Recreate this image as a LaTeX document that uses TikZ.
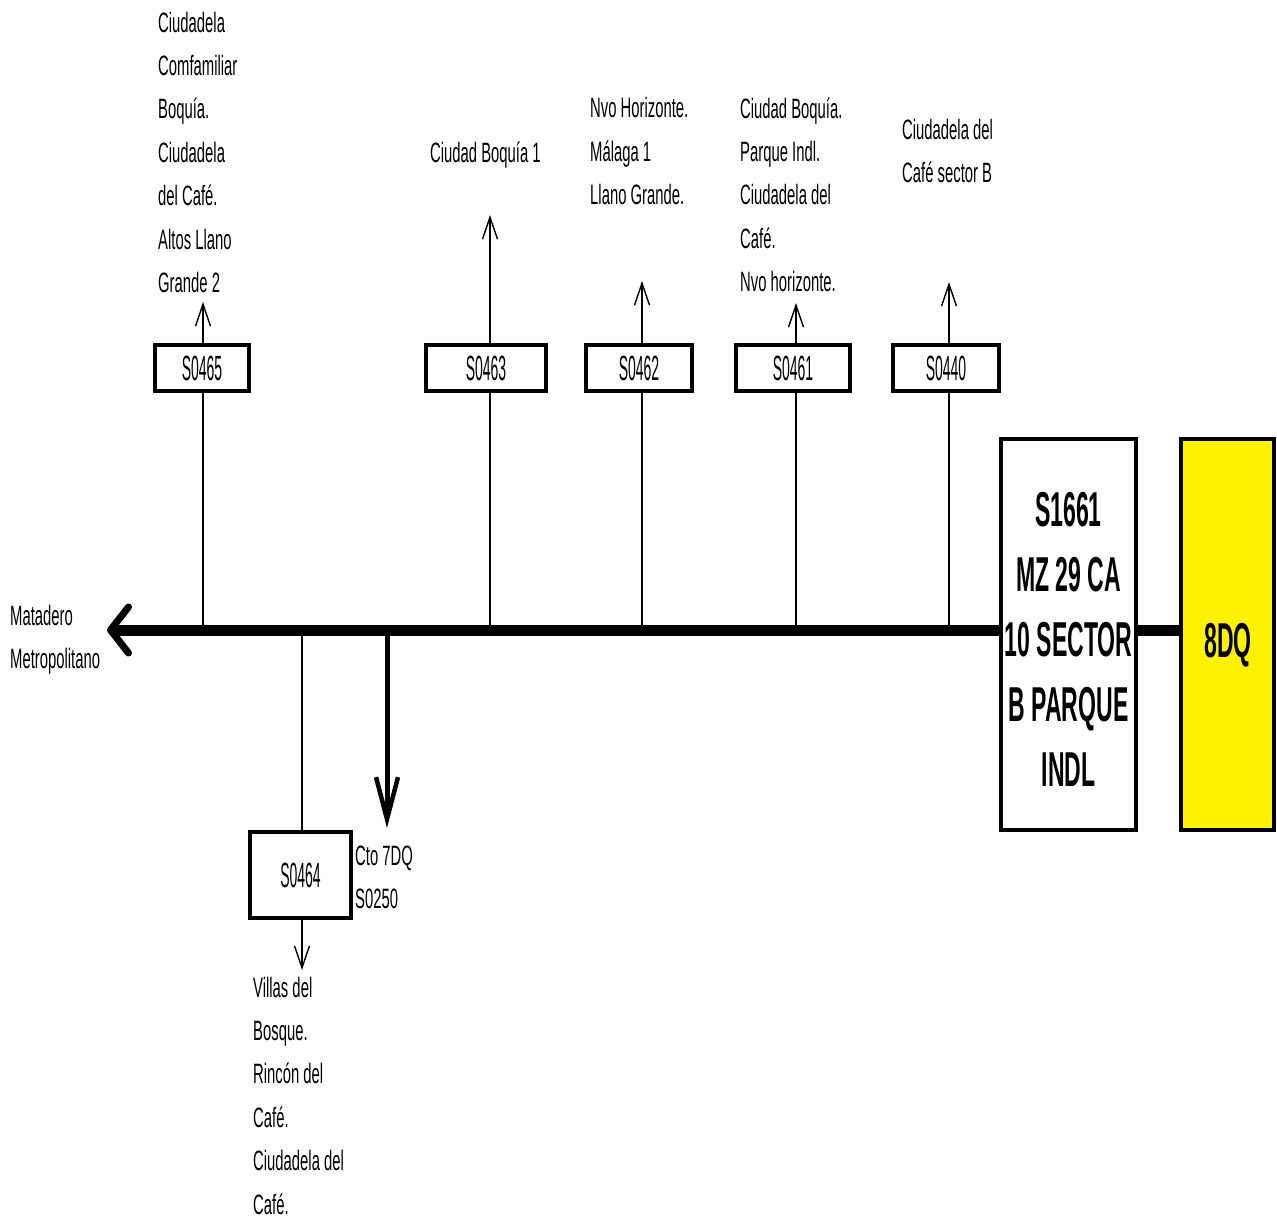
\documentclass[tikz,border=0pt]{standalone}
\usepackage{fontspec}
\usetikzlibrary{arrows.meta}
\newfontfamily\regf{Liberation Sans}[FakeStretch=0.53]
\newfontfamily\boxf{Liberation Sans}[FakeStretch=0.40]
\newfontfamily\boldf{Liberation Sans}[FakeStretch=0.47]
\begin{document}
\begin{tikzpicture}[x=1pt,y=-1pt,
  lbl/.style={anchor=base west, inner sep=0pt, align=left, font=\regf\fontsize{28}{43.4}\selectfont},
  sbox/.style={draw, line width=3.5pt, fill=white, inner sep=0pt, minimum height=46pt, font=\boxf\fontsize{35}{40}\selectfont},
  bigbox/.style={draw, line width=3.5pt, inner sep=0pt, minimum height=391pt},
  bigtxt/.style={inner sep=0pt, align=center, font=\boldf\bfseries\fontsize{49}{65}\selectfont},
  conn/.style={line width=1.4pt},
  thinarrow/.style={line width=1.4pt, -{Straight Barb[length=22pt,width=15pt,line width=1.4pt]}},
  mainline/.style={line width=11pt},
  mainarrow/.style={line width=11pt, -{Straight Barb[length=18pt,width=46pt,line width=7pt,round]}},
  droparrow/.style={line width=5pt, -{Straight Barb[length=42pt,width=22pt,line width=4.5pt]}}
]
\useasboundingbox (0,0) rectangle (1277,1220);

% boxes
\node[sbox, minimum width=94pt] (s0465) at (202,368) {S0465};
\node[sbox, minimum width=120pt] (s0463) at (486,368) {S0463};
\node[sbox, minimum width=106pt] (s0462) at (639,368) {S0462};
\node[sbox, minimum width=114pt] (s0461) at (793,368) {S0461};
\node[sbox, minimum width=106pt] (s0440) at (946,368) {S0440};
\node[sbox, minimum width=101pt, minimum height=86pt] (s0464) at (300.5,875) {S0464};
\node[bigbox, minimum width=135pt] (s1661) at (1068.5,634.5) {};
\node[bigtxt] (s1661t) at (1068.5,639.5) {S1661\\MZ 29 CA\\10 SECTOR\\B PARQUE\\INDL};
\node[bigbox, fill=yellow, minimum width=93pt] (dq8) at (1227.5,634.5) {};
\node[bigtxt, anchor=base] (dq8t) at (1228,657) {8DQ};

% coordinates
\coordinate (tip) at (107,630);
\coordinate (j465) at (203,630);
\coordinate (j463) at (490,630);
\coordinate (j462) at (642,630);
\coordinate (j461) at (796,630);
\coordinate (j440) at (949,630);
\coordinate (j302) at (302,630);
\coordinate (j388) at (387,630);
\coordinate (t465) at (203,302);
\coordinate (t463) at (490,215);
\coordinate (t462) at (642,281);
\coordinate (t461) at (796,303);
\coordinate (t440) at (949,282);
\coordinate (t302) at (302,970);
\coordinate (t388) at (387,828);

% main line
\draw[mainarrow] (s1661.west |- tip) -- (tip);
\draw[mainline] (s1661.east |- tip) -- (dq8.west |- tip);

% branches
\draw[conn] (j465) -- (j465 |- s0465.south);
\draw[thinarrow] (j465 |- s0465.north) -- (t465);
\draw[conn] (j463) -- (j463 |- s0463.south);
\draw[thinarrow] (j463 |- s0463.north) -- (t463);
\draw[conn] (j462) -- (j462 |- s0462.south);
\draw[thinarrow] (j462 |- s0462.north) -- (t462);
\draw[conn] (j461) -- (j461 |- s0461.south);
\draw[thinarrow] (j461 |- s0461.north) -- (t461);
\draw[conn] (j440) -- (j440 |- s0440.south);
\draw[thinarrow] (j440 |- s0440.north) -- (t440);
\draw[conn] (j302) -- (j302 |- s0464.north);
\draw[thinarrow] (j302 |- s0464.south) -- (t302);
\draw[droparrow] (j388) -- (t388);

% labels (anchor is the baseline of the last line)
\node[lbl] (l465) at (158,292.4) {Ciudadela\\Comfamiliar\\Boquía.\\Ciudadela\\del Café.\\Altos Llano\\Grande 2};
\node[lbl] (l463) at (430,162) {Ciudad Boquía 1};
\node[lbl] (l462) at (590,204.8) {Nvo Horizonte.\\Málaga 1\\Llano Grande.};
\node[lbl] (l461) at (740,291.6) {Ciudad Boquía.\\Parque Indl.\\Ciudadela del\\Café.\\Nvo horizonte.};
\node[lbl] (l440) at (902,182.4) {Ciudadela del\\Café sector B};
\node[lbl] (lmat) at (10,668.4) {Matadero\\Metropolitano};
\node[lbl] (lcto) at (355,908.4) {Cto 7DQ\\S0250};
\node[lbl] (lvil) at (253,1214) {Villas del\\Bosque.\\Rincón del\\Café.\\Ciudadela del\\Café.};
\end{tikzpicture}
\end{document}
